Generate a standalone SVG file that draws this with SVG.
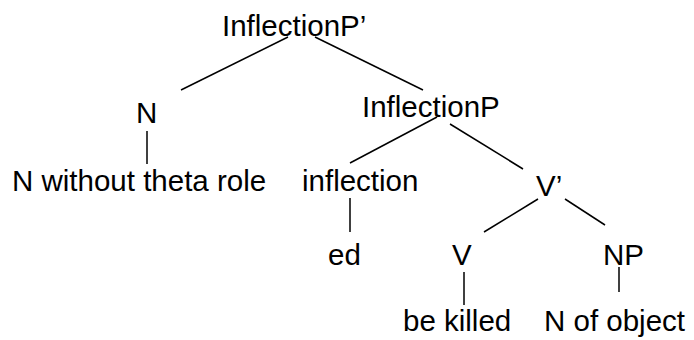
<svg xmlns="http://www.w3.org/2000/svg" width="694" height="340" viewBox="0 0 694 340">
<style>
text{font-family:"Liberation Sans",Arial,sans-serif;font-size:29.5px;fill:#000}
.e line{stroke:#000;stroke-width:1.5}
</style>
<rect width="694" height="340" fill="#fff"/>
<g class="e" id="connectors">
<line x1="288" y1="37" x2="181" y2="90"/>
<line x1="315" y1="37" x2="423" y2="90"/>
<line x1="147" y1="131" x2="147" y2="164"/>
<line x1="437" y1="117" x2="350" y2="163"/>
<line x1="450" y1="124" x2="523" y2="169"/>
<line x1="350" y1="198" x2="350" y2="232"/>
<line x1="538" y1="199" x2="484" y2="232"/>
<line x1="565" y1="199" x2="605" y2="225"/>
<line x1="464" y1="272" x2="464" y2="305"/>
<line x1="619" y1="267" x2="619" y2="292"/>
</g>
<g id="n-ipbar"><text x="222" y="36">InflectionP’</text></g>
<g id="n-n"><text x="136" y="123">N</text></g>
<g id="n-nwt"><text x="12" y="191">N without theta role</text></g>
<g id="n-ip"><text x="362" y="117">InflectionP</text></g>
<g id="n-infl"><text x="302" y="191">inflection</text></g>
<g id="n-ed"><text x="328" y="265">ed</text></g>
<g id="n-vbar"><text x="536" y="196">V’</text></g>
<g id="n-v"><text x="452" y="265">V</text></g>
<g id="n-np"><text x="603" y="265">NP</text></g>
<g id="n-bk"><text x="403" y="331">be killed</text></g>
<g id="n-nob"><text x="544" y="331">N of object</text></g>
</svg>
